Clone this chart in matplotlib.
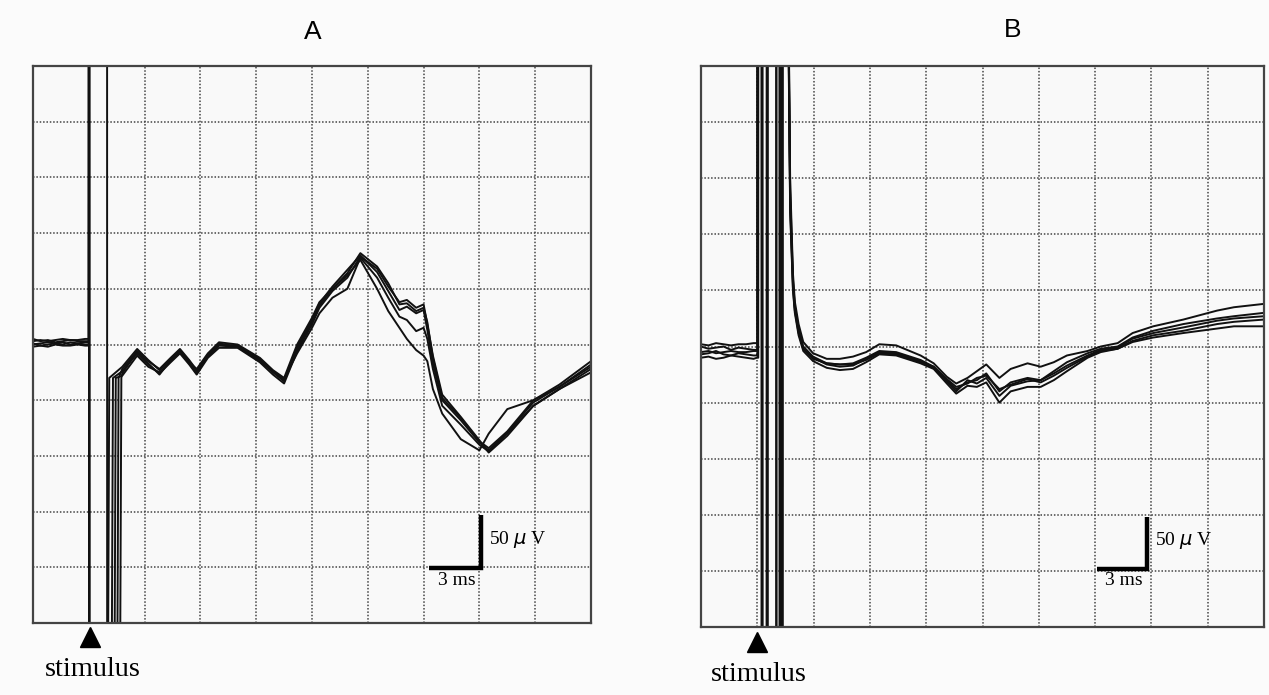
import numpy as np
import matplotlib
matplotlib.use("Agg")
import matplotlib.pyplot as plt

# time in ms, amplitude in uV (grid = 3 ms x 50 uV)
pre_t = [0, 0.4, 0.8, 1.2, 1.6, 2.0, 2.4, 2.8, 3.0]

# ---- panel A ----
pre_A = [
    [3, 4, 3, 4, 5, 4, 4, 5, 5],
    [0, 1, 2, 1, 0, 2, 1, 2, 2],
    [-2, -1, -2, 0, -1, -1, 0, -1, -1],
    [1, -1, 0, 1, 2, 0, 1, 0, 0],
    [5, 3, 4, 2, 3, 4, 3, 3, 3],
]
down_A = [3.02, 3.02, 3.02, 3.02, 3.98]
ret_A = [3.85, 4.05, 4.2, 4.35, 4.5]
post_tA = [4.8, 5.6, 6.2, 6.8, 7.4, 7.9, 8.4, 8.8, 9.4, 10.0, 11.0, 12.2, 12.9, 13.5,
           14.2, 15.0, 15.4, 16.1, 16.9, 17.6, 18.5, 19.1, 19.7, 20.1, 20.6, 21.0,
           21.2, 21.5, 22.0, 23.0, 24.0, 24.5, 25.5, 26.9, 28.3, 30.0]
post_A = [
    [-20, -4, -14, -23, -13, -5, -15, -24, -10, 0, -1, -14, -25, -33, -2, 22, 37, 52,
     67, 80, 65, 48, 31, 34, 28, 31, 13, -17, -50, -68, -88, -95, -79, -52, -38, -18],
    [-24, -8, -18, -26, -16, -8, -18, -27, -12, -3, -3, -16, -27, -35, -6, 18, 33, 48,
     60, 79, 68, 52, 38, 40, 33, 36, 18, -10, -45, -65, -86, -97, -82, -55, -40, -22],
    [-28, -10, -20, -25, -15, -7, -16, -22, -8, 2, 0, -12, -23, -30, 0, 24, 38, 50,
     62, 76, 50, 30, 15, 5, -5, -10, -15, -40, -62, -85, -95, -80, -58, -50, -38, -20],
    [-22, -6, -15, -22, -12, -4, -14, -23, -11, -1, -2, -15, -24, -31, -8, 15, 28, 42,
     50, 78, 60, 42, 25, 22, 12, 15, 5, -22, -55, -72, -90, -96, -80, -55, -40, -25],
    [-26, -6, -17, -27, -14, -6, -17, -26, -9, 1, -2, -13, -24, -32, -4, 20, 35, 50,
     64, 82, 70, 55, 36, 37, 30, 33, 20, -12, -48, -66, -87, -93, -78, -50, -36, -15],
]

# ---- panel B ----
pre_B = [
    [-5, -4, -6, -5, -4, -5, -5, -4, -4],
    [2, 1, 3, 2, 1, 2, 2, 3, 3],
    [-10, -9, -11, -10, -8, -9, -10, -11, -10],
    [-7, -6, -4, -7, -8, -6, -7, -8, -8],
    [0, -2, -1, 0, -3, -1, -2, -3, -3],
]
switch_B = [
    [3.0, 3.25, 3.52, 4.0, 4.3],
    [3.02, 3.27, 3.55, 4.2, 4.32],
    [3.05, 3.24, 3.5, 4.18, 4.35],
    [3.0, 3.26, 3.53, 4.02, 4.3],
    [3.03, 3.22, 3.5, 4.2, 4.33],
]
post_tB = [4.6, 4.75, 4.9, 5.0, 5.2, 5.45, 5.97, 6.7, 7.4, 8.1, 8.8, 9.5, 10.4, 11.7,
           12.4, 13.1, 13.6, 14.2, 14.7, 15.2, 15.9, 16.5, 17.4, 18.1, 18.8, 19.5,
           20.6, 21.3, 22.2, 23.0, 24.1, 25.7, 27.5, 28.4, 30.0]
post_B = [
    [400, 130, 57, 35, 15, 0, -9, -15, -16, -15, -10, -4, -5, -12, -18, -30, -38, -32,
     -30, -24, -40, -32, -28, -30, -24, -17, -8, -3, -1, 7, 12, 17, 23, 25, 27],
    [420, 150, 65, 40, 20, 4, -6, -11, -11, -9, -5, 2, 1, -8, -15, -27, -33, -28,
     -22, -16, -28, -20, -15, -18, -14, -8, -4, 0, 3, 12, 18, 24, 32, 35, 38],
    [380, 120, 50, 30, 10, -4, -13, -19, -21, -20, -14, -7, -8, -15, -20, -33, -42, -35,
     -36, -32, -50, -40, -36, -36, -30, -22, -10, -5, -2, 4, 8, 12, 16, 18, 18],
    [410, 140, 60, 36, 14, -2, -10, -16, -18, -17, -11, -5, -6, -13, -19, -31, -40, -30,
     -33, -28, -44, -35, -31, -30, -22, -14, -6, -2, 0, 8, 14, 20, 25, 27, 30],
    [390, 125, 52, 32, 12, -2, -11, -15, -16, -16, -12, -6, -7, -14, -18, -29, -36, -33,
     -28, -26, -38, -34, -29, -32, -26, -19, -9, -4, -2, 5, 10, 14, 20, 22, 24],
]

BIG = 1000


def trace_A(i):
    # pre-stimulus, artefact up/down (clipped), return, response
    x = list(pre_t) + [3.01, down_A[i], down_A[i] + 0.01, ret_A[i], ret_A[i] + 0.25]
    y = list(pre_A[i]) + [BIG, BIG, -BIG, -BIG, -30]
    return x + post_tA, y + post_A[i]


def trace_B(i):
    x = list(pre_t[:-1]) + [2.98]
    y = list(pre_B[i])
    lev = BIG
    for s in switch_B[i]:
        x += [s, s + 0.01]
        y += [y[-1], lev]
        lev = -lev
    return x + post_tB, y + post_B[i]


def style_axes(ax):
    ax.set_xlim(0, 30)
    ax.set_ylim(-250, 250)
    ax.set_xticks(np.arange(0, 31, 3))
    ax.set_yticks(np.arange(-250, 251, 50))
    ax.grid(True, linestyle=(0, (1, 1.2)), color="#444444", linewidth=1.1)
    ax.tick_params(length=0, labelbottom=False, labelleft=False)
    ax.set_facecolor("#f9f9f9")
    for sp in ax.spines.values():
        sp.set_color("#444444")
        sp.set_linewidth(1.6)


def scale_bar(ax, x0, x1, y0, y1):
    ax.plot([x0, x1, x1], [y0, y0, y1], color="black", lw=3.2,
            solid_joinstyle="miter", solid_capstyle="butt")
    ax.text(x1 + 0.4, (y0 + y1) / 2 + 2, "50 $\\mu$ V", fontsize=14,
            family="Liberation Serif", va="center", ha="left")
    ax.text((x0 + x1) / 2 + 0.1, y0 - 3, "3 ms", fontsize=14,
            family="Liberation Serif", va="top", ha="center")


fig = plt.figure(figsize=(12.69, 6.95), dpi=100, facecolor="#fbfbfb")
axA = fig.add_axes([33 / 1269, 1 - 623 / 695, 558 / 1269, 557 / 695])
axB = fig.add_axes([701 / 1269, 1 - 627 / 695, 563 / 1269, 561 / 695])

for ax in (axA, axB):
    style_axes(ax)

for i in range(5):
    x, y = trace_A(i)
    axA.plot(x, y, color="#111111", lw=1.4)
    x, y = trace_B(i)
    axB.plot(x, y, color="#111111", lw=1.4)

scale_bar(axA, 21.3, 24.1, -201, -153)
scale_bar(axB, 21.1, 23.77, -198, -152)

for ax, sx, tx in ((axA, 3.06, 0.65), (axB, 2.98, 0.5)):
    ax.plot([sx], [-263], marker="^", color="black", markersize=14, clip_on=False)
    ax.text(tx, -292, "stimulus", fontsize=20.5, family="Liberation Serif",
            va="center", ha="left", clip_on=False)

axA.text(0.502, 1.061, "A", transform=axA.transAxes, fontsize=19,
         family="Liberation Sans", ha="center", va="center")
axB.text(0.554, 1.064, "B", transform=axB.transAxes, fontsize=19,
         family="Liberation Sans", ha="center", va="center")

fig.savefig("out.png", dpi=100, facecolor=fig.get_facecolor())
